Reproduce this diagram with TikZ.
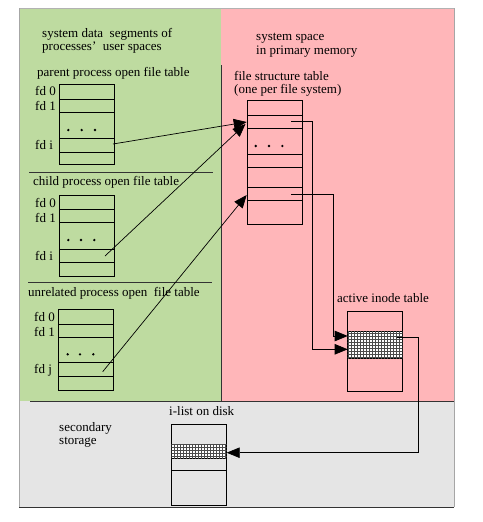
\documentclass[tikz,border=0pt]{standalone}
\usepackage{fontspec}
\setmainfont{Liberation Serif}
\usetikzlibrary{arrows.meta,patterns}
\definecolor{gfill}{RGB}{190,219,160}
\definecolor{pfill}{RGB}{255,182,185}
\definecolor{sfill}{RGB}{229,229,229}
\begin{document}
\begin{tikzpicture}[x=1pt,y=-1pt,
  txt/.style={font=\fontsize{13}{15}\selectfont, inner sep=0pt, anchor=west},
  tbl/.style={draw, line width=0.9pt},
  conn/.style={line width=0.7pt},
  tip/.style={-{Triangle[length=13pt,width=10.5pt]}},
  dotm/.style={circle, fill=black, inner sep=0pt, minimum size=2.6pt},
  band/.style={fill=white, postaction={pattern=grid, pattern color=black!70}}]
\useasboundingbox (0,0) rectangle (482,522);
% regions
\fill[gfill] (19,8) rectangle (221,401);
\fill[pfill] (221,8) rectangle (454,401);
\fill[sfill] (19,401) rectangle (454,507);
\draw[gray!60, line width=0.5pt] (19,8) -- (454,8);
\draw[gray!70, line width=0.7pt] (19,8) -- (19,507);
\draw[gray!70, line width=0.7pt] (454,8) -- (454,507);
\draw[black!80, line width=0.9pt] (19,507) -- (454,507);
\draw[black!80, line width=0.8pt] (221,65) -- (221,401);
\draw[black!80, line width=0.8pt] (30,401) -- (454,401);
\draw[black!80, line width=0.8pt] (29,172) -- (213,172);
\draw[black!80, line width=0.8pt] (28,282) -- (212,282);
% headings
\node[txt] (h1) at (42,34) {system data\ \ segments of};
\node[txt] (h2) at (42,48) {processes'\ \ user spaces};
\node[txt] (h3) at (256,38) {system space};
\node[txt] (h4) at (256,52) {in primary memory};
\node[txt] (h5) at (59,428) {secondary};
\node[txt] (h6) at (59,442) {storage};
% parent table
\node[txt] (pt) at (37,73) {parent process open file table};
\draw[tbl] (59,84) rectangle (114,164);
\foreach \yy in {99,112,138,152} \draw[tbl] (59,\yy) -- (114,\yy);
\node[txt] (pf0) at (35,91) {fd 0};
\node[txt] (pf1) at (35,106) {fd 1};
\node[txt] (pfi) at (35,145) {fd i};
\node[dotm] (pd1) at (68.3,130) {};
\node[dotm] (pd2) at (81.7,130) {};
\node[dotm] (pd3) at (95,130) {};
% child table
\node[txt] (ct) at (33,182) {child process open file table};
\draw[tbl] (59,195) rectangle (114,276);
\foreach \yy in {209.3,222.7,249,262.3} \draw[tbl] (59,\yy) -- (114,\yy);
\node[txt] (cf0) at (35,203) {fd 0};
\node[txt] (cf1) at (35,218) {fd 1};
\node[txt] (cfi) at (35,256) {fd i};
\node[dotm] (cd1) at (68.3,240) {};
\node[dotm] (cd2) at (81,240) {};
\node[dotm] (cd3) at (94.3,240) {};
% unrelated table
\node[txt] (ut) at (28,293) {unrelated process open\ \ file table};
\draw[tbl] (58.7,309) rectangle (113.3,390);
\foreach \yy in {324,337.3,362.7,376.7} \draw[tbl] (58.7,\yy) -- (113.3,\yy);
\node[txt] (uf0) at (34,317) {fd 0};
\node[txt] (uf1) at (34,332) {fd 1};
\node[txt] (ufj) at (34,370) {fd j};
\node[dotm] (ud1) at (67.7,354.3) {};
\node[dotm] (ud2) at (80,354.3) {};
\node[dotm] (ud3) at (93.3,354.3) {};
% file structure table
\node[txt] (ft) at (234,76) {file structure table};
\node[txt] (ft2) at (234,90.7) {(one per file system)};
\draw[tbl] (247.7,100.7) rectangle (302.3,224);
\foreach \yy in {115,128,154,167,187,200} \draw[tbl] (247.7,\yy) -- (302.3,\yy);
\node[dotm] (fd1) at (255.7,146) {};
\node[dotm] (fd2) at (269,146) {};
\node[dotm] (fd3) at (282.3,146) {};
% active inode table
\node[txt] (it) at (337,297.7) {active inode table};
\draw[tbl] (347.7,311) rectangle (402.3,391.7);
\draw[tbl, band] (347.7,331.7) rectangle (402.3,358.3);
% i-list
\node[txt] (lt) at (169,410.7) {i-list on disk};
\draw[tbl] (171.7,424.3) rectangle (226.7,505);
\draw[tbl, band] (171.7,444.3) rectangle (226.7,458.3);
\draw[tbl] (171.7,470) -- (226.7,470);
% connector end points
\coordinate (ps) at (113,144);
\coordinate (cs) at (105,256);
\coordinate (us) at (102.7,371.7);
\coordinate (fa) at (246.7,122);
\coordinate (fb) at (245.5,124);
\coordinate (fc) at (246.7,195);
\coordinate (f1s) at (291,121.7);
\coordinate (f1k) at (312.7,121.7);
\coordinate (f1d) at (312.7,349.3);
\coordinate (i1) at (347.7,349.3);
\coordinate (f2s) at (291,194.3);
\coordinate (f2k) at (333,194.3);
\coordinate (f2d) at (333,336);
\coordinate (i2) at (347.7,336);
\coordinate (is) at (396.7,337.7);
\coordinate (ik) at (418.3,337.7);
\coordinate (id) at (418.3,452.7);
\coordinate (ls) at (226.7,452.7);
% connectors
\draw[conn,tip] (ps) -- (fa);
\draw[conn,tip] (cs) -- (fb);
\draw[conn,tip] (us) -- (fc);
\draw[conn,tip] (f1s) -- (f1k) -- (f1d) -- (i1);
\draw[conn,tip] (f2s) -- (f2k) -- (f2d) -- (i2);
\draw[conn,tip] (is) -- (ik) -- (id) -- (ls);
\end{tikzpicture}
\end{document}
